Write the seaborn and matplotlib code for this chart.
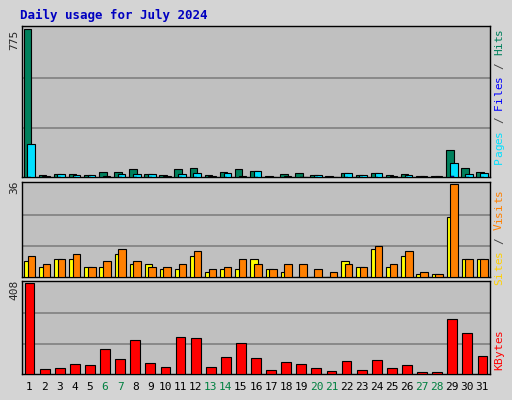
import matplotlib
matplotlib.use("Agg")
import matplotlib.pyplot as plt
import seaborn as sns
import numpy as np

days = list(range(1, 32))
hits = [775,11,14,14,9,25,25,43,14,9,43,48,9,25,43,32,5,14,20,9,5,20,9,20,9,14,5,5,143,48,25]
files = [171,5,14,9,9,5,14,14,14,5,14,20,5,20,5,32,2,5,0,9,0,20,9,20,5,9,3,3,75,14,20]
pages = [2,1,1,1,1,1,1,1,1,1,1,1,1,1,1,1,1,1,0,1,0,1,1,1,1,1,1,1,6,1,1]
sites = [6,4,7,7,4,4,9,5,5,3,3,8,2,3,3,7,3,2,0,0,0,6,4,11,4,8,1,1,23,7,7]
visits = [8,5,7,9,4,6,11,6,4,4,5,10,3,4,7,5,3,5,5,3,2,5,4,12,5,10,2,1,36,7,7]
kbytes = [408,24,28,46,42,113,68,153,51,33,167,162,33,77,140,73,19,55,46,28,15,60,19,64,28,42,10,10,247,185,82]
weekend = {6,7,13,14,20,21,27,28}
title = "Daily usage for July 2024"

sns.set_style("white")
plt.rcParams['font.family'] = ['DejaVu Sans Mono']
W, H = 512, 400
fig = plt.figure(figsize=(W/100, H/100), dpi=100, facecolor="#D4D4D4")
x = np.array(days)

def mkax(top, bottom):
    ax = fig.add_axes([22/W, 1-bottom/H, 468/W, (bottom-top)/H])
    ax.set_facecolor("#C0C0C0")
    ax.set_xlim(0.5, 31.5)
    for s in ax.spines.values():
        s.set_color("black"); s.set_linewidth(1)
    ax.tick_params(left=False, bottom=False, labelleft=False, labelbottom=False)
    return ax

def grid(ax, m):
    ax.set_ylim(0, m*1.02)
    for f in (1/3, 2/3):
        ax.axhline(m*f, color="#808080", lw=1.2, zorder=0)

ax1 = mkax(26, 177)
grid(ax1, 775)
kw = dict(edgecolor="black", linewidth=0.8, zorder=3)
ax1.bar(x-0.15, hits, width=0.5, color="#00805C", **kw)
ax1.bar(x+0.1, files, width=0.5, color="#00E0FF", **kw)
ax1.bar(x+0.0, pages, width=0.2, color="#0000FF", edgecolor="black", linewidth=0.3, zorder=4)

ax2 = mkax(182, 277)
grid(ax2, 36)
ax2.bar(x-0.12, sites, width=0.5, color="#FFFF00", **kw)
ax2.bar(x+0.12, visits, width=0.5, color="#FF8000", **kw)

ax3 = mkax(281, 374)
grid(ax3, 408)
ax3.bar(x, kbytes, width=0.65, color="#FF0000", **kw)
ax3.tick_params(labelbottom=True, labelsize=8, pad=2)
ax3.set_xticks(days)
ax3.set_xticklabels([str(d) for d in days])
for t, d in zip(ax3.get_xticklabels(), days):
    t.set_color("#008040" if d in weekend else "black")

fig.text(20/W, 1-15/H, title, color="#0000C0", fontsize=9, fontweight="bold", va="center",
         family="DejaVu Sans Mono")
for ypix, lab in ((40, "775"), (187, "36"), (290, "408")):
    fig.text(14/W, 1-ypix/H, lab, rotation=90, fontsize=8, va="center", ha="center")

def rlabel(ycenter, parts):
    n = sum(len(p[0]) for p in parts)
    ch = 6.8
    y = ycenter + n*ch/2
    for txt, col in parts:
        for c in txt:
            if c != " ":
                fig.text(499/W, 1-(y - ch/2)/H, c, rotation=90, fontsize=8, color=col,
                         ha="center", va="center")
            y -= ch

rlabel(96, [("Pages", "#00E0FF"), (" / ", "#404040"), ("Files", "#0000FF"), (" / ", "#404040"), ("Hits", "#00805C")])
rlabel(237, [("Sites", "#FFD000"), (" / ", "#404040"), ("Visits", "#FF8000")])
rlabel(350, [("KBytes", "#FF0000")])

fig.savefig("out.png", dpi=100, facecolor=fig.get_facecolor())
